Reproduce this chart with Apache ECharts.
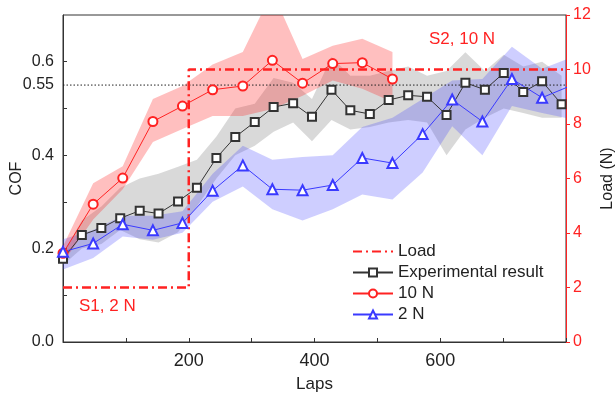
<!DOCTYPE html>
<html>
<head>
<meta charset="utf-8">
<script src="https://cdn.jsdelivr.net/npm/echarts@6/dist/echarts.min.js"></script>
<style>
  html, body { margin: 0; padding: 0; background: #fff; }
  #chart { width: 615px; height: 396px; }
</style>
</head>
<body>
<div id="chart"></div>
<script>
// experimental result (black squares) and its spread
const expLaps = [0, 30, 61, 91, 122, 152, 183, 213, 244, 274, 305, 335, 366, 396, 427, 457, 488, 518, 549, 579, 610, 640, 671, 701, 732, 762, 793];
const expCOF = [0.178, 0.229, 0.244, 0.265, 0.281, 0.275, 0.301, 0.330, 0.394, 0.439, 0.471, 0.503, 0.511, 0.482, 0.540, 0.496, 0.488, 0.518, 0.528, 0.525, 0.486, 0.555, 0.540, 0.576, 0.535, 0.558, 0.509];
const expUpper = [0.19, 0.26, 0.29, 0.33, 0.35, 0.36, 0.375, 0.39, 0.44, 0.50, 0.51, 0.565, 0.555, 0.52, 0.61, 0.57, 0.57, 0.58, 0.59, 0.57, 0.58, 0.62, 0.58, 0.615, 0.59, 0.60, 0.57];
const expLower = [0.165, 0.20, 0.21, 0.24, 0.22, 0.213, 0.235, 0.29, 0.35, 0.40, 0.42, 0.45, 0.47, 0.43, 0.475, 0.455, 0.46, 0.47, 0.475, 0.47, 0.40, 0.455, 0.48, 0.50, 0.49, 0.48, 0.48];

// 10 N (red circles)
const redLaps = [0, 48, 95, 143, 190, 238, 286, 333, 381, 429, 476, 524];
const redCOF = [0.19, 0.295, 0.351, 0.472, 0.505, 0.54, 0.548, 0.603, 0.554, 0.596, 0.598, 0.563];
const redUpper = [0.205, 0.34, 0.376, 0.52, 0.548, 0.594, 0.621, 0.75, 0.606, 0.634, 0.649, 0.621];
const redLower = [0.17, 0.262, 0.327, 0.428, 0.456, 0.484, 0.484, 0.499, 0.527, 0.56, 0.542, 0.514];

// 2 N (blue triangles), last point lies past the axis end
const blueLaps = [0, 48, 95, 143, 190, 238, 286, 333, 381, 429, 476, 524, 572, 619, 667, 714, 762, 810];
const blueCOF = [0.193, 0.211, 0.252, 0.239, 0.255, 0.324, 0.378, 0.327, 0.325, 0.336, 0.394, 0.383, 0.445, 0.519, 0.472, 0.563, 0.523, 0.55];
const blueUpper = [0.22, 0.24, 0.27, 0.27, 0.28, 0.36, 0.42, 0.39, 0.396, 0.40, 0.46, 0.48, 0.52, 0.56, 0.563, 0.632, 0.585, 0.61];
const blueLower = [0.155, 0.18, 0.226, 0.219, 0.234, 0.30, 0.333, 0.284, 0.26, 0.284, 0.316, 0.305, 0.363, 0.462, 0.40, 0.505, 0.49, 0.477];

// applied load (right axis)
const loadLaps = [0, 200, 200, 800];
const loadN = [2, 2, 10, 10];

// reference COF level
const refLaps = [0, 800];
const refCOF = [0.55, 0.55];

const cofLabels = [0, 0.2, 0.4, 0.55, 0.6];
const cofTicks = [0.1, 0.2, 0.3, 0.4, 0.5, 0.6];
const lapLabels = [200, 400, 600];

const FONT = '"Liberation Sans", Arial, sans-serif';
const RED = '#ff2222';
const BLUE = '#3a3aff';
const BLACK = '#333';

const pairs = (xs, ys) => xs.map((x, i) => [x, ys[i]]);

// shaded spread between lower and upper, one polygon per series
function band(name, xs, lower, upper, color) {
  return {
    type: 'custom', name: name, coordinateSystem: 'cartesian2d', clip: true, silent: true, z: 1,
    data: xs.map((x, i) => [x, lower[i], upper[i]]),
    encode: { x: 0, y: [1, 2] },
    renderItem: (params, api) => {
      if (params.dataIndex !== 0) return null;
      const top = xs.map((x, i) => api.coord([x, upper[i]]));
      const bot = xs.map((x, i) => api.coord([x, lower[i]])).reverse();
      return { type: 'polygon', shape: { points: top.concat(bot) }, style: { fill: color } };
    }
  };
}

const chart = echarts.init(document.getElementById('chart'));
chart.setOption({
  animation: false,
  textStyle: { fontFamily: FONT },
  grid: {
    left: 63, right: 49, top: 15, bottom: 54, outerBoundsMode: 'none',
    show: true, borderColor: BLACK, borderWidth: 1
  },
  legend: {
    orient: 'vertical', left: 347, top: 238,
    itemWidth: 40, itemHeight: 10, itemGap: 4,
    textStyle: { fontSize: 17, color: '#222', fontFamily: FONT },
    data: [
      { name: 'Load', itemStyle: { opacity: 0 } },
      'Experimental result', '10 N', '2 N'
    ]
  },
  xAxis: {
    type: 'value', min: 0, max: 800, interval: 100,
    name: 'Laps', nameLocation: 'middle', nameGap: 34,
    nameTextStyle: { fontSize: 17, color: '#222' },
    axisLine: { lineStyle: { color: BLACK } },
    axisTick: { inside: true, length: 4, lineStyle: { color: BLACK } },
    axisLabel: {
      fontSize: 18, color: '#222', margin: 10,
      formatter: v => (lapLabels.includes(v) ? String(v) : '')
    },
    splitLine: { show: false }
  },
  yAxis: [
    {
      type: 'value', min: 0, max: 0.7, interval: 0.1,
      name: 'COF', nameLocation: 'middle', nameGap: 38, nameRotate: 90, nameMoveOverlap: false,
      nameTextStyle: { fontSize: 16, color: '#222' },
      axisLine: { show: true, lineStyle: { color: BLACK } },
      axisTick: { inside: true, length: 4, lineStyle: { color: BLACK }, customValues: cofTicks },
      axisLabel: {
        fontSize: 16, color: '#222', margin: 9, customValues: cofLabels,
        formatter: v => (v === 0 ? '0.0' : String(+v.toFixed(2)))
      },
      splitLine: { show: false }
    },
    {
      type: 'value', min: 0, max: 12, interval: 2, position: 'right',
      name: 'Load (N)', nameLocation: 'middle', nameGap: 34, nameRotate: 90, nameMoveOverlap: false,
      nameTextStyle: { fontSize: 16, color: '#222' },
      axisLine: { show: true, lineStyle: { color: RED } },
      axisTick: { inside: false, length: 4, lineStyle: { color: RED } },
      axisLabel: { fontSize: 16, color: RED, margin: 7 },
      splitLine: { show: false }
    }
  ],
  graphic: [
    { type: 'text', left: 79, top: 298, style: { text: 'S1, 2 N', fill: RED, font: '17px ' + FONT } },
    { type: 'text', left: 429, top: 31, style: { text: 'S2, 10 N', fill: RED, font: '17px ' + FONT } }
  ],
  series: [
    band('expBand', expLaps, expLower, expUpper, 'rgba(120,120,120,0.28)'),
    band('blueBand', blueLaps, blueLower, blueUpper, 'rgba(60,60,255,0.25)'),
    band('redBand', redLaps, redLower, redUpper, 'rgba(255,20,20,0.27)'),
    {
      type: 'line', name: 'ref', data: pairs(refLaps, refCOF), symbol: 'none', silent: true,
      lineStyle: { color: '#222', width: 1, type: [1.5, 2] }, z: 3
    },
    {
      type: 'line', name: 'Load', yAxisIndex: 1, data: pairs(loadLaps, loadN), symbol: 'none',
      itemStyle: { color: RED },
      lineStyle: { color: RED, width: 2.5, type: [9, 4, 2, 4] }, z: 4
    },
    {
      type: 'line', name: 'Experimental result', data: pairs(expLaps, expCOF),
      symbol: 'emptyRect', symbolSize: 8, showAllSymbol: true,
      itemStyle: { color: BLACK, borderWidth: 1.2 },
      lineStyle: { color: BLACK, width: 1 }, z: 5
    },
    {
      type: 'line', name: '10 N', data: pairs(redLaps, redCOF),
      symbol: 'emptyCircle', symbolSize: 9, showAllSymbol: true,
      itemStyle: { color: RED, borderWidth: 1.2 },
      lineStyle: { color: RED, width: 1 }, z: 5
    },
    {
      type: 'line', name: '2 N', data: pairs(blueLaps, blueCOF),
      symbol: 'emptyTriangle', symbolSize: 10, showAllSymbol: true, clip: true,
      itemStyle: { color: BLUE, borderWidth: 1.2 },
      lineStyle: { color: BLUE, width: 1 }, z: 5
    }
  ]
});
</script>
</body>
</html>
